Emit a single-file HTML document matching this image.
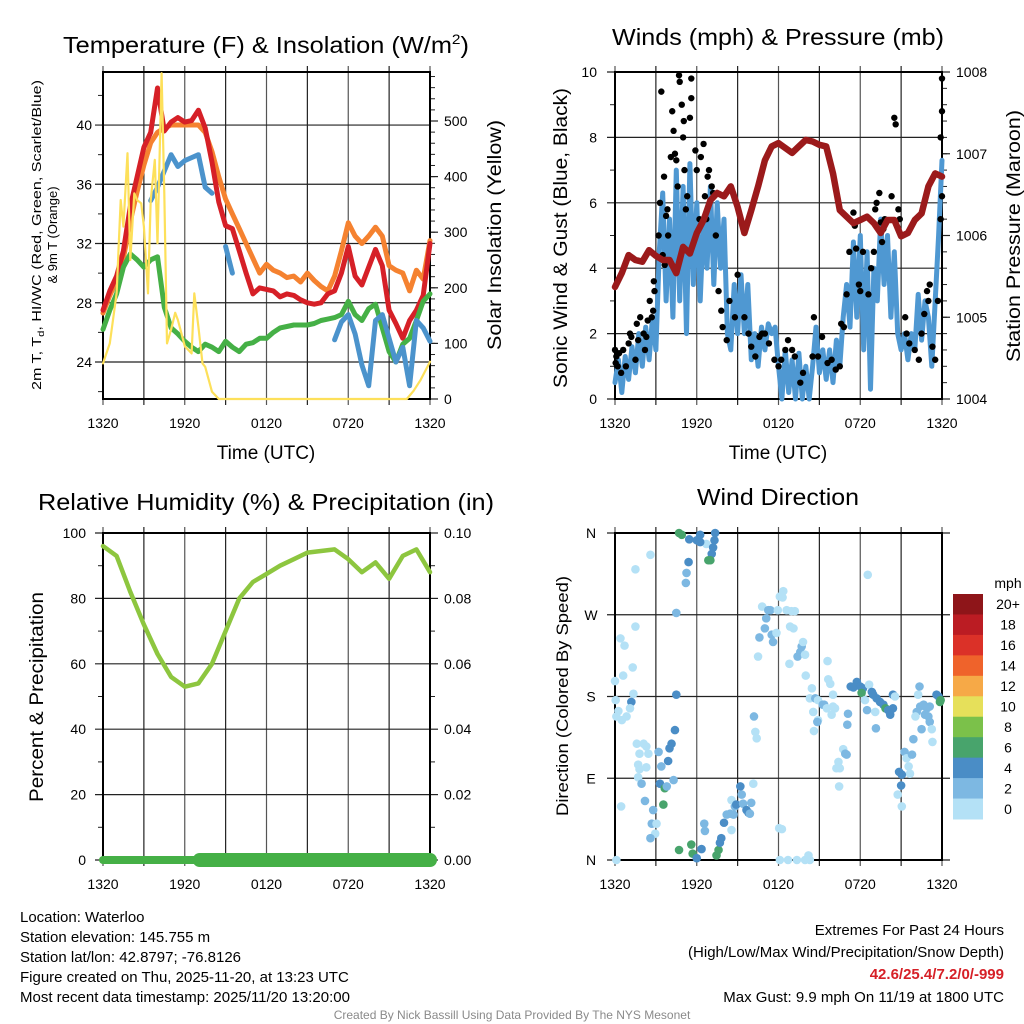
<!DOCTYPE html>
<html><head><meta charset="utf-8"><style>
html,body{margin:0;padding:0;background:#fff;}
svg{display:block;font-family:"Liberation Sans",Arial,sans-serif;}
</style></head><body>
<svg id="chart" width="1024" height="1024" viewBox="0 0 1024 1024" xmlns="http://www.w3.org/2000/svg">
<rect x="0" y="0" width="1024" height="1024" fill="#fff"/>
<text x="266" y="53" font-size="23" text-anchor="middle" textLength="406" lengthAdjust="spacingAndGlyphs">Temperature (F) &amp; Insolation (W/m<tspan font-size="14" dy="-9">2</tspan><tspan dy="9">)</tspan></text>
<text x="778" y="45" font-size="23" text-anchor="middle" textLength="332" lengthAdjust="spacingAndGlyphs">Winds (mph) &amp; Pressure (mb)</text>
<text x="266" y="510" font-size="23" text-anchor="middle" textLength="456" lengthAdjust="spacingAndGlyphs">Relative Humidity (%) &amp; Precipitation (in)</text>
<text x="778" y="505" font-size="23" text-anchor="middle" textLength="162" lengthAdjust="spacingAndGlyphs">Wind Direction</text>

<text transform="translate(41,235) rotate(-90)" font-size="13" text-anchor="middle" textLength="310" lengthAdjust="spacingAndGlyphs">2m T, T<tspan font-size="9" dy="3">d</tspan><tspan dy="-3">, HI/WC (Red, Green, Scarlet/Blue)</tspan></text>
<text transform="translate(57,235) rotate(-90)" font-size="13" text-anchor="middle">&amp; 9m T (Orange)</text>
<text transform="translate(501,235) rotate(-90)" font-size="19" text-anchor="middle" textLength="230" lengthAdjust="spacingAndGlyphs">Solar Insolation (Yellow)</text>
<text x="266" y="459" font-size="19" text-anchor="middle">Time (UTC)</text>
<text transform="translate(567,238) rotate(-90)" font-size="19" text-anchor="middle" textLength="300" lengthAdjust="spacingAndGlyphs">Sonic Wind &amp; Gust (Blue, Black)</text>
<text transform="translate(1020,236) rotate(-90)" font-size="19" text-anchor="middle" textLength="252" lengthAdjust="spacingAndGlyphs">Station Pressure (Maroon)</text>
<text x="778" y="459" font-size="19" text-anchor="middle">Time (UTC)</text>
<text transform="translate(43,697) rotate(-90)" font-size="19" text-anchor="middle" textLength="210" lengthAdjust="spacingAndGlyphs">Percent &amp; Precipitation</text>
<text transform="translate(568,696) rotate(-90)" font-size="17" text-anchor="middle" textLength="240" lengthAdjust="spacingAndGlyphs">Direction (Colored By Speed)</text>

<g font-size="15">
<text x="20" y="922">Location: Waterloo</text>
<text x="20" y="942">Station elevation: 145.755 m</text>
<text x="20" y="962">Station lat/lon: 42.8797; -76.8126</text>
<text x="20" y="982">Figure created on Thu, 2025-11-20, at 13:23 UTC</text>
<text x="20" y="1002">Most recent data timestamp: 2025/11/20 13:20:00</text>
</g>
<g font-size="15" text-anchor="end">
<text x="1004" y="935">Extremes For Past 24 Hours</text>
<text x="1004" y="957">(High/Low/Max Wind/Precipitation/Snow Depth)</text>
<text x="1004" y="979" fill="#d62027" font-weight="bold">42.6/25.4/7.2/0/-999</text>
<text x="1004" y="1002">Max Gust: 9.9 mph On 11/19 at 1800 UTC</text>
</g>
<text x="512" y="1019" font-size="12" fill="#8a8a8a" text-anchor="middle">Created By Nick Bassill Using Data Provided By The NYS Mesonet</text>
</svg>
<script>
// ---------- DATA ----------
const hourLabels = ['1320','1920','0120','0720','1320'];
const halfHours = [0,0.5,1,1.5,2,2.5,3,3.5,4,4.5,5,5.5,6,6.5,7,7.5,8,8.5,9,9.5,10,10.5,11,11.5,12,12.5,13,13.5,14,14.5,15,15.5,16,16.5,17,17.5,18,18.5,19,19.5,20,20.5,21,21.5,22,22.5,23,23.5,24];
const temp2m = [27.5,28.8,29.8,31.5,34.5,36.5,38.5,39.5,42.5,39.6,40.2,40.5,40.2,40.3,41.0,39.8,37.5,34.8,33.2,33.0,31.5,30.0,28.6,29.0,28.9,28.8,28.4,28.6,28.5,28.2,28.0,27.9,28.0,28.6,28.8,30.0,31.8,29.8,29.2,30.4,31.6,30.5,27.5,26.6,25.6,26.8,27.5,28.5,32.0];
const temp9m = [27.3,28.5,29.5,31.0,33.5,35.5,37.3,38.8,39.5,39.8,40.0,40.0,40.0,40.0,40.0,39.5,38.2,36.5,35.0,34.0,33.0,32.0,31.0,30.0,30.6,30.2,30.0,29.7,29.8,29.4,30.0,29.5,29.1,28.8,29.8,31.5,33.4,32.5,32.0,32.5,33.1,32.5,30.5,30.2,30.0,28.8,30.2,29.6,32.2];
const dewpoint = [26.2,27.5,28.6,30.4,31.3,30.9,30.4,30.9,31.1,27.7,26.3,25.9,25.4,25.0,24.7,25.2,25.0,24.7,25.4,25.0,24.7,25.2,25.3,25.6,25.6,26.0,26.3,26.4,26.5,26.5,26.5,26.6,26.8,26.9,27.0,27.2,28.1,27.2,26.8,27.6,27.9,26.3,24.7,24.0,25.2,25.6,26.8,28.1,28.6];
const windChill = [null,null,null,null,null,null,null,34.9,35.8,36.9,38.0,37.2,37.6,37.8,38.0,35.8,35.4,null,31.8,30.0,null,null,null,null,null,null,null,null,null,null,null,null,null,null,25.5,26.7,27.2,25.9,23.8,22.4,26.8,27.2,25.6,24.0,25.0,22.4,26.8,26.3,25.4];
const solarHours = [0,0.5,1,1.3,1.5,1.8,2.0,2.3,2.5,2.8,3.0,3.3,3.5,3.8,4.0,4.3,4.5,4.7,5.0,5.3,5.5,6.0,6.5,6.7,7.0,7.3,7.5,8.0,8.5,22.3,22.8,23.3,24];
const solarVals = [64,100,190,358,310,442,250,370,358,352,310,190,357,430,280,586,370,100,125,155,142,95,82,190,130,64,58,13,0,0,15,34,67];

const quarterHours = [];
for (let i = 0; i <= 96; i++) quarterHours.push(i / 4);
const windSpeed = [0.5,1.2,0.2,1.3,0.6,1.6,0.8,2.0,1.0,2.2,1.2,2.5,1.5,4.5,6.3,3.0,5.5,2.5,7.0,3.0,6.5,2.0,7.2,3.5,6.0,3.0,5.5,4.0,6.5,3.5,6.0,4.0,5.5,2.0,1.5,3.5,2.0,3.8,2.0,3.5,1.2,2.0,1.0,2.2,1.5,2.3,2.0,2.2,1.0,0.0,1.5,0.2,1.2,0.0,1.4,0.0,1.0,0.0,1.0,2.2,0.8,1.5,0.6,1.5,0.5,1.8,1.0,2.5,3.5,2.2,4.8,2.5,5.0,1.5,4.5,0.3,4.0,3.0,5.5,3.5,5.0,2.5,4.5,2.0,1.5,2.0,1.2,2.0,1.5,3.2,1.8,3.0,2.5,1.0,3.0,5.0,7.3];
const pressure = [1005.37,1005.54,1005.76,1005.70,1005.68,1005.82,1005.75,1005.70,1005.70,1005.54,1005.86,1005.78,1006.03,1006.19,1006.43,1006.52,1006.48,1006.60,1006.35,1006.03,1006.31,1006.60,1006.92,1007.09,1007.13,1007.07,1007.01,1007.09,1007.17,1007.15,1007.11,1007.09,1006.76,1006.31,1006.23,1006.15,1006.19,1006.23,1006.15,1006.03,1006.19,1006.19,1005.99,1006.03,1006.19,1006.27,1006.60,1006.76,1006.72];
const gustHours = [0.0,0.05,0.1,0.2,0.3,0.45,0.6,0.8,1.0,1.1,1.2,1.5,1.6,1.7,1.85,2.1,2.2,2.3,2.4,2.55,2.7,2.8,2.85,2.9,3.2,3.3,3.4,3.5,3.6,3.65,3.75,3.85,3.9,4.1,4.2,4.3,4.4,4.5,4.6,4.7,4.75,4.9,5.0,5.05,5.1,5.2,5.3,5.5,5.6,5.6,5.9,6.0,6.2,6.3,6.5,6.6,6.7,6.8,6.9,7.1,7.2,7.4,7.6,7.8,7.9,8.2,8.4,8.8,9.0,9.5,9.8,10.0,10.3,10.6,10.8,11.0,11.3,11.7,12.0,12.2,12.5,12.7,13.0,13.2,13.6,13.8,14.5,14.6,14.9,15.2,15.6,15.9,16.2,16.5,16.6,16.8,17.0,17.2,17.5,17.6,17.7,17.9,18.0,18.2,18.6,18.8,19.0,19.1,19.2,19.4,19.5,19.6,19.7,19.8,19.9,20.3,20.5,20.6,20.8,20.9,21.0,21.3,21.4,21.6,22.0,22.3,22.5,22.7,22.9,23.0,23.1,23.3,23.5,23.7,23.9,24.0,24.0,24.0,23.9];
const gustVals = [1.5,1.1,1.3,1.0,1.4,0.8,1.5,1.0,1.7,2.0,1.9,1.2,2.3,1.8,2.5,2.0,1.5,1.9,2.4,3.0,2.5,2.7,3.6,3.3,5.0,6.0,9.4,4.4,6.8,4.1,5.6,5.8,5.0,7.4,8.8,8.2,7.5,7.3,6.5,9.9,9.7,9.0,8.0,8.5,7.0,5.8,6.2,8.6,9.8,9.2,7.6,7.0,5.5,7.4,7.8,6.2,5.5,6.8,7.0,6.5,6.3,5.0,3.3,2.7,2.2,1.8,3.0,2.5,3.8,2.5,2.0,1.6,1.3,1.9,2.0,2.0,1.7,1.2,1.0,1.2,1.5,1.8,1.5,1.3,0.5,0.8,1.3,2.5,1.3,1.9,1.1,1.2,0.9,1.0,2.3,2.2,3.2,4.5,5.7,5.3,4.6,3.5,3.3,4.5,3.2,4.0,4.5,5.8,6.0,6.3,5.4,4.8,5.2,5.5,5.4,6.2,8.6,8.4,5.8,5.5,5.0,2.5,2.0,1.7,1.5,1.2,2.0,2.6,3.3,3.0,3.5,1.6,1.2,3.0,5.5,6.2,8.8,9.8,8.0];

const rhHours = [0,1,2,3,4,5,6,7,8,9,10,11,12,13,14,15,16,17,18,19,20,21,22,23,24];
const rhVals = [96,93,82,72,63,56,53,54,60,70,80,85,87.5,90,92,94,94.5,95,92,88,91,86,93,95,88];
const precipHours = [0,7.1,24];
const precipVals = [0,0,0];

const dirHours = [0.1,2.6,1.5,1.5,0.4,0.7,1.3,0.6,0.0,0.05,1.35,1.2,0.25,1.1,0.85,0.5,0.1,1.6,2.1,2.3,1.8,2.45,1.7,1.8,2.3,1.7,1.95,2.2,0.45,2.8,2.7,3.05,2.95,2.6,3.2,3.4,3.3,3.65,3.8,3.55,3.9,4.0,4.15,4.4,4.3,4.5,4.5,5.2,5.25,5.4,4.7,4.9,5.45,6.0,6.25,6.7,6.25,7.35,7.3,7.2,7.1,6.85,7.0,4.7,5.6,5.7,6.35,6.0,6.55,6.6,7.45,7.6,7.7,7.8,8.0,8.55,8.2,8.45,8.7,8.8,8.55,8.9,9.2,9.3,9.4,9.65,9.8,9.9,10.0,10.15,10.2,10.3,10.4,10.5,10.6,10.8,11.0,11.1,11.25,11.4,11.5,11.6,11.85,11.95,12.1,12.35,12.3,12.6,12.95,13.2,12.85,13.1,12.8,13.4,13.6,13.7,13.8,13.95,14.0,14.45,14.3,14.7,14.9,15.25,15.35,15.55,15.9,16.0,16.15,16.0,14.55,14.9,14.85,14.6,15.65,15.8,15.6,16.75,16.9,17.0,16.4,16.5,16.25,16.45,17.1,17.05,17.5,17.3,17.75,18.0,18.2,18.1,18.35,18.5,18.65,18.85,18.95,19.2,19.45,19.7,19.85,20.05,20.2,20.4,19.1,19.15,20.4,20.55,18.55,21.25,21.4,21.55,21.65,20.85,21.05,21.0,20.75,21.05,21.9,21.8,22.25,22.35,22.15,22.4,22.65,22.9,23.1,23.0,23.1,22.75,22.05,22.5,23.25,23.3,23.6,23.75,23.85,23.9,12.05,12.25,12.1,12.7,13.35,13.95,14.2,14.3];
const dirDeg = [0,336,320,257,244,236,212,203,197,176,183,174,164,167,158,154,158,128,128,125,117,117,105,100,102,91,84,65,59,55,40,40,29,24,119,103,84,79,81,61,109,123,128,143,88,182,272,305,316,328,360,358,353,352,358,348,350,360,352,344,337,330,330,11,17,7,12,2,40,32,5,11,19,24,41,33,50,51,50,59,66,61,81,72,62,55,52,51,63,84,158,141,134,224,245,279,255,266,275,275,248,240,250,275,290,296,289,275,274,274,257,255,216,224,229,235,240,226,203,189,178,178,176,171,171,167,160,169,167,182,163,154,152,142,199,194,219,122,117,116,108,101,101,81,161,149,190,191,196,191,189,184,176,165,193,185,182,178,174,171,167,165,160,167,163,145,182,180,314,119,112,103,95,97,94,82,72,59,133,116,182,191,163,169,171,167,169,158,152,160,158,144,144,130,182,180,174,176,35,34,0,0,0,0,5,0];
const dirSpeed = [1,1,1,1,1,1,1,1,1,1,1,5,1,1,1,1,1,1,1,1,1,1,1,1,1,1,3,3,1,3,3,1,1,3,3,3,5,7,3,7,5,5,5,5,3,5,3,3,3,5,7,7,5,5,5,1,5,5,5,5,5,7,7,7,7,7,5,5,3,3,7,7,5,5,5,1,3,3,3,3,1,5,5,3,3,5,5,3,3,1,3,1,1,1,3,1,3,3,3,3,3,3,1,1,1,1,1,1,1,1,1,1,1,3,3,3,1,1,1,1,1,3,1,3,3,1,1,1,1,1,1,1,3,1,1,1,1,1,3,3,1,1,1,1,3,3,5,5,5,5,5,7,1,3,1,5,5,5,5,5,7,5,5,5,1,3,5,1,1,3,1,1,1,5,5,5,1,1,3,3,1,3,3,3,3,3,3,3,3,3,1,3,1,1,5,5,7,7,1,1,1,1,1,1,1,1];
const speedBins = [0,2,4,6,8,10,12,14,16,18,20];
const speedBinLabels = ['0','2','4','6','8','10','12','14','16','18','20+'];
const speedColors = ['#b4e1f6','#7db8e2','#4a8dc6','#48a46c','#7bc14a','#e6e05a','#f6a947','#ef632b','#db3128','#bb1c23','#8e1519'];

// ---------- HELPERS ----------
const NS = 'http://www.w3.org/2000/svg';
const svg = document.getElementById('chart');
function el(tag, attrs, parent) {
  const e = document.createElementNS(NS, tag);
  for (const k in attrs) e.setAttribute(k, attrs[k]);
  (parent || svg).appendChild(e);
  return e;
}
function linePath(xs, ys, fx, fy) {
  let d = '', pen = false;
  for (let i = 0; i < xs.length; i++) {
    if (ys[i] === null || ys[i] === undefined) { pen = false; continue; }
    d += (pen ? 'L' : 'M') + fx(xs[i]).toFixed(1) + ' ' + fy(ys[i]).toFixed(1);
    pen = true;
  }
  return d;
}
function fmt(v, dec) { return dec ? v.toFixed(dec) : String(v); }

function panel(cfg) {
  const g = el('g', {});
  
  
  const {x0, x1, y0, y1, fx} = cfg;
  for (let h = 0; h <= 24; h += 3) {
    const x = fx(h);
    const vl = el('line', {x1: x, x2: x, y1: y0 - 6, y2: y1 + 6, stroke: h % 6 ? '#222' : '#555', 'stroke-width': 1.2}, g);
    
    
  }
  for (let i = 0; i < hourLabels.length; i++) {
    const t = el('text', {x: fx(i * 6), y: y1 + 29, 'font-size': 14, 'text-anchor': 'middle'}, g);
    
    
    t.textContent = hourLabels[i];
  }
  const L = cfg.left;
  for (const v of L.major) {
    const y = L.fy(v);
    const gl = el('line', {x1: x0 - 8, x2: x1 + (cfg.right ? 0 : 8), y1: y, y2: y, stroke: '#222', 'stroke-width': 1.2}, g);
    
    
  }
  for (const v of (L.minor || [])) {
    const y = L.fy(v);
    const tk = el('line', {x1: x0 - 5, x2: x0, y1: y, y2: y, stroke: '#222', 'stroke-width': 1}, g);
    
    
  }
  for (let i = 0; i < L.major.length; i++) {
    const lab = L.labels ? L.labels[i] : fmt(L.major[i], L.dec);
    if (lab === '') continue;
    const t = el('text', {x: L.lx, y: L.fy(L.major[i]) + 5, 'font-size': 14, 'text-anchor': L.anchor || 'end'}, g);
    
    
    t.textContent = lab;
  }
  if (cfg.right) {
    const R = cfg.right;
    for (const v of R.major) {
      const y = R.fy(v);
      const tk = el('line', {x1: x1, x2: x1 + 8, y1: y, y2: y, stroke: '#222', 'stroke-width': 1.2}, g);
      
      
      const t = el('text', {x: x1 + 14, y: y + 5, 'font-size': 14}, g);
      
      
      t.textContent = fmt(v, R.dec);
    }
    for (const v of (R.minor || [])) {
      const y = R.fy(v);
      const tk = el('line', {x1: x1, x2: x1 + 5, y1: y, y2: y, stroke: '#222', 'stroke-width': 1}, g);
      
      
    }
  }
  const fr = el('rect', {x: x0, y: y0, width: x1 - x0, height: y1 - y0, fill: 'none', stroke: '#000', 'stroke-width': 2}, g);
  
  
  return g;
}
function range(a, b, s) { const r = []; for (let v = a; v <= b + 1e-9; v += s) r.push(Math.round(v * 1000) / 1000); return r; }

// ---------- PANEL 1 ----------
const p1x = h => 103 + h * 327 / 24;
const p1yT = v => 362 - (v - 24) * 14.81;
const p1yS = v => 399 - v * 0.556;
panel({name: 'temperature-panel', x0: 103, x1: 430, y0: 72, y1: 399, fx: p1x,
  left: {fy: p1yT, major: [24,28,32,36,40], minor: [22,26,30,34,38,42], lx: 92},
  right: {fy: p1yS, major: [0,100,200,300,400,500], minor: range(20,580,20)}});
const tempG = el('g', {fill: 'none', 'stroke-linejoin': 'round', 'stroke-linecap': 'round'});


const l9 = el('path', {d: linePath(halfHours, temp9m, p1x, p1yT), stroke: '#f58230', 'stroke-width': 5}, tempG);


const l2 = el('path', {d: linePath(halfHours, temp2m, p1x, p1yT), stroke: '#d62027', 'stroke-width': 5}, tempG);


const ld = el('path', {d: linePath(halfHours, dewpoint, p1x, p1yT), stroke: '#45b046', 'stroke-width': 5}, tempG);


const lw = el('path', {d: linePath(halfHours, windChill, p1x, p1yT), stroke: '#4b93cc', 'stroke-width': 5}, tempG);


const ls = el('path', {d: linePath(solarHours, solarVals, p1x, p1yS), stroke: '#fde05a', 'stroke-width': 2.2}, tempG);



// ---------- PANEL 2 ----------
const p2x = h => 615 + h * 327 / 24;
const p2yW = v => 399 - v * 32.7;
const p2yP = p => 399 - (p - 1004) * 81.75;
panel({name: 'wind-pressure-panel', x0: 615, x1: 942, y0: 72, y1: 399, fx: p2x,
  left: {fy: p2yW, major: [0,2,4,6,8,10], minor: [1,3,5,7,9], lx: 597},
  right: {fy: p2yP, major: [1004,1005,1006,1007,1008], minor: range(1004.2,1007.8,0.2)}});
const windG = el('g', {fill: 'none', 'stroke-linejoin': 'round', 'stroke-linecap': 'round'});


const lws = el('path', {d: linePath(quarterHours, windSpeed, p2x, p2yW), stroke: '#4f98d2', 'stroke-width': 5}, windG);


for (let i = 0; i < gustHours.length; i++) {
  const c = el('circle', {cx: p2x(gustHours[i]), cy: p2yW(gustVals[i]), r: 3.2, fill: '#000'}, windG);
  
  
}
const lp = el('path', {d: linePath(halfHours, pressure, p2x, p2yP), stroke: '#9b1a1b', 'stroke-width': 6.5}, windG);



// ---------- PANEL 3 ----------
const p3x = h => 103 + h * 327 / 24;
const p3yR = v => 860 - v * 3.27;
const p3yP = v => 860 - v * 3270;
panel({name: 'humidity-panel', x0: 103, x1: 430, y0: 533, y1: 860, fx: p3x,
  left: {fy: p3yR, major: [0,20,40,60,80,100], minor: [10,30,50,70,90], lx: 86},
  right: {fy: p3yP, major: [0,0.02,0.04,0.06,0.08,0.10], minor: [0.01,0.03,0.05,0.07,0.09], dec: 2}});
const rhG = el('g', {fill: 'none', 'stroke-linejoin': 'round', 'stroke-linecap': 'round'});


const lrh = el('path', {d: linePath(rhHours, rhVals, p3x, p3yR), stroke: '#8dc63f', 'stroke-width': 4.5}, rhG);


const pr1 = el('path', {d: linePath(precipHours.slice(0,2), precipVals.slice(0,2), p3x, p3yP), stroke: '#45b046', 'stroke-width': 8}, rhG);


const pr2 = el('path', {d: linePath(precipHours.slice(1), precipVals.slice(1), p3x, p3yP), stroke: '#45b046', 'stroke-width': 14}, rhG);



// ---------- PANEL 4 ----------
const p4x = h => 615 + h * 327 / 24;
const p4y = d => 860 - d * 327 / 360;
panel({name: 'wind-direction-panel', x0: 615, x1: 942, y0: 533, y1: 860, fx: p4x,
  left: {fy: p4y, major: [0,90,180,270,360], labels: ['N','E','S','W','N'], lx: 591, anchor: 'middle'}});
function speedColor(s) {
  let idx = 0;
  for (let i = 0; i < speedBins.length; i++) if (s >= speedBins[i]) idx = i;
  return speedColors[idx];
}
const dirG = el('g', {});


for (let i = 0; i < dirHours.length; i++) {
  const c = el('circle', {cx: p4x(dirHours[i]), cy: p4y(dirDeg[i]), r: 4.3, fill: speedColor(dirSpeed[i])}, dirG);
  
  
}
const cb = el('g', {});


const cbTop = 594, cbH = 225 / speedColors.length;
const cbt = el('text', {x: 1008, y: 588, 'font-size': 14, 'text-anchor': 'middle'}, cb);


cbt.textContent = 'mph';
for (let i = 0; i < speedColors.length; i++) {
  const k = speedColors.length - 1 - i;
  const r = el('rect', {x: 953, y: cbTop + i * cbH, width: 30, height: cbH + 0.5, fill: speedColors[k]}, cb);
  
  
  const t = el('text', {x: 1008, y: cbTop + i * cbH + cbH / 2 + 5, 'font-size': 14, 'text-anchor': 'middle'}, cb);
  
  
  t.textContent = speedBinLabels[k];
}
</script>
</body></html>
